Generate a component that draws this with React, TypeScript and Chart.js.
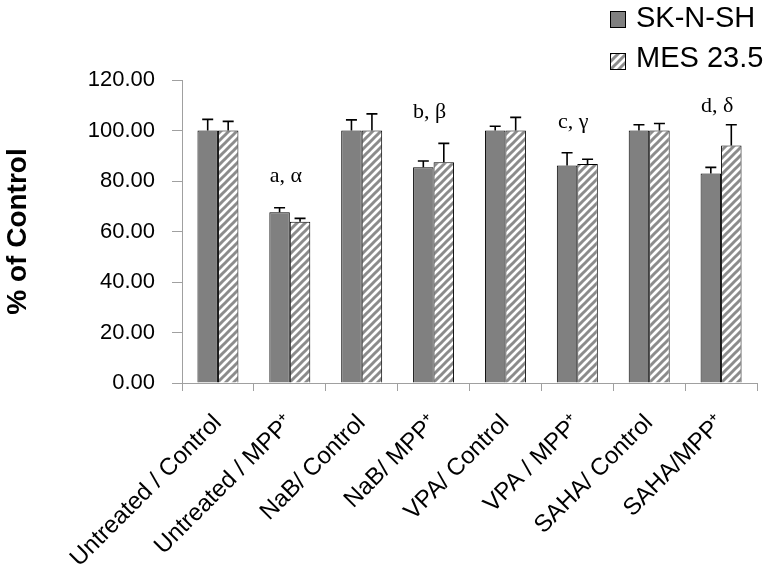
import React, { useEffect, useRef } from 'react';
import { Chart, registerables } from 'chart.js';

Chart.register(...registerables);

const categories = [
  'Untreated / Control',
  'Untreated / MPP⁺',
  'NaB/ Control',
  'NaB/ MPP⁺',
  'VPA/ Control',
  'VPA / MPP⁺',
  'SAHA/ Control',
  'SAHA/MPP⁺',
];
const seriesNames = ['SK-N-SH', 'MES 23.5'];
const skValues = [100, 67.6, 100, 85.4, 100, 86.1, 100, 83.0];
const skErrors = [4.4, 1.8, 4.2, 2.5, 1.7, 5.1, 2.3, 2.4];
const mesValues = [100, 63.9, 100, 87.4, 100, 86.7, 100, 94.1];
const mesErrors = [3.6, 1.3, 6.6, 7.5, 5.2, 1.9, 2.8, 8.2];
const annotationTexts = ['', 'a, α', '', 'b, β', '', 'c, γ', '', 'd, δ'];
const annotationLevels = [0, 79.6, 0, 105, 0, 101, 0, 107.3];
const yMin = 0;
const yMax = 120;
const yStep = 20;
const yTitle = '% of Control';

const SANS = 'Arial, "Liberation Sans", sans-serif';
const SERIF = '"Times New Roman", "Liberation Serif", serif';

function makeHatch(): CanvasPattern | string {
  const c = document.createElement('canvas');
  const s = 8;
  c.width = s;
  c.height = s;
  const g = c.getContext('2d');
  if (!g) return '#ffffff';
  g.fillStyle = '#ffffff';
  g.fillRect(0, 0, s, s);
  g.strokeStyle = '#8c8c8c';
  g.lineWidth = 3;
  g.lineCap = 'square';
  for (const off of [-s, 0, s]) {
    g.beginPath();
    g.moveTo(off, s);
    g.lineTo(off + s, 0);
    g.stroke();
  }
  const p = g.createPattern(c, 'repeat');
  return p || '#ffffff';
}

export default function App() {
  const ref = useRef<HTMLCanvasElement | null>(null);

  useEffect(() => {
    if (!ref.current) return;
    const hatch = makeHatch();

    const errorBars = {
      id: 'errorBars',
      afterDatasetsDraw(chart: any) {
        const ctx = chart.ctx;
        const y = chart.scales.y;
        chart.data.datasets.forEach((ds: any, di: number) => {
          const meta = chart.getDatasetMeta(di);
          meta.data.forEach((bar: any, i: number) => {
            const top = y.getPixelForValue(ds.data[i] + ds.errors[i]);
            ctx.save();
            ctx.strokeStyle = '#000';
            ctx.lineWidth = 1.6;
            ctx.beginPath();
            ctx.moveTo(bar.x, bar.y);
            ctx.lineTo(bar.x, top);
            ctx.moveTo(bar.x - 5.5, top);
            ctx.lineTo(bar.x + 5.5, top);
            ctx.stroke();
            ctx.restore();
          });
        });
      },
    };

    const annotations = {
      id: 'annotations',
      afterDatasetsDraw(chart: any) {
        const ctx = chart.ctx;
        const x = chart.scales.x;
        const y = chart.scales.y;
        ctx.save();
        ctx.fillStyle = '#000';
        ctx.font = `22px ${SERIF}`;
        ctx.textAlign = 'center';
        ctx.textBaseline = 'alphabetic';
        annotationTexts.forEach((t, i) => {
          if (!t) return;
          ctx.fillText(t, x.getPixelForValue(i) - 4, y.getPixelForValue(annotationLevels[i]));
        });
        ctx.restore();
      },
    };

    const legend = {
      id: 'customLegend',
      afterDraw(chart: any) {
        const ctx = chart.ctx;
        ctx.save();
        ctx.font = `29px ${SANS}`;
        ctx.textBaseline = 'alphabetic';
        ctx.textAlign = 'left';
        chart.data.datasets.forEach((ds: any, i: number) => {
          const bx = 610;
          const by = 11 + i * 42;
          ctx.fillStyle = ds.backgroundColor;
          ctx.fillRect(bx, by, 15, 16);
          ctx.strokeStyle = '#000';
          ctx.lineWidth = 1;
          ctx.strokeRect(bx + 0.5, by + 0.5, 15, 16);
          ctx.fillStyle = '#000';
          ctx.fillText(ds.label, 636, 27 + i * 40);
        });
        ctx.restore();
      },
    };

    const chart = new Chart(ref.current, {
      type: 'bar',
      data: {
        labels: categories,
        datasets: [
          {
            label: seriesNames[0],
            data: skValues,
            errors: skErrors,
            backgroundColor: '#808080',
            borderColor: '#000',
            borderWidth: 1,
            categoryPercentage: 0.57,
            barPercentage: 1,
          } as any,
          {
            label: seriesNames[1],
            data: mesValues,
            errors: mesErrors,
            backgroundColor: hatch,
            borderColor: '#000',
            borderWidth: 1,
            categoryPercentage: 0.57,
            barPercentage: 1,
          } as any,
        ],
      },
      options: {
        animation: false,
        responsive: false,
        layout: { padding: { top: 80, right: 14, left: 0, bottom: 0 } },
        plugins: {
          legend: { display: false },
          tooltip: { enabled: false },
        },
        scales: {
          x: {
            grid: {
              offset: true,
              drawOnChartArea: false,
              drawTicks: true,
              tickLength: 8,
              color: '#a0a0a0',
            },
            border: { color: '#a0a0a0', width: 1 },
            ticks: {
              minRotation: 45,
              maxRotation: 45,
              autoSkip: false,
              padding: 18,
              color: '#000',
              font: { family: SANS, size: 24 },
            },
            afterFit(scale: any) {
              scale.height = 185;
            },
          },
          y: {
            min: yMin,
            max: yMax,
            grid: {
              drawOnChartArea: false,
              drawTicks: true,
              tickLength: 10,
              color: '#a0a0a0',
            },
            border: { color: '#a0a0a0', width: 1 },
            ticks: {
              stepSize: yStep,
              padding: 17,
              color: '#000',
              font: { family: SANS, size: 22 },
              callback: (v: any) => Number(v).toFixed(2),
            },
            title: {
              display: true,
              text: yTitle,
              color: '#000',
              padding: { top: 1, bottom: 0 },
              font: { family: SANS, size: 28, weight: 'bold' },
            },
            afterFit(scale: any) {
              scale.width = 182;
            },
          },
        },
      } as any,
      plugins: [errorBars, annotations, legend],
    });

    return () => chart.destroy();
  }, []);

  return (
    <div style={{ position: 'absolute', left: 0, top: 0, width: 771, height: 568, background: '#fff' }}>
      <canvas ref={ref} width={771} height={568} style={{ width: 771, height: 568 }} />
    </div>
  );
}
